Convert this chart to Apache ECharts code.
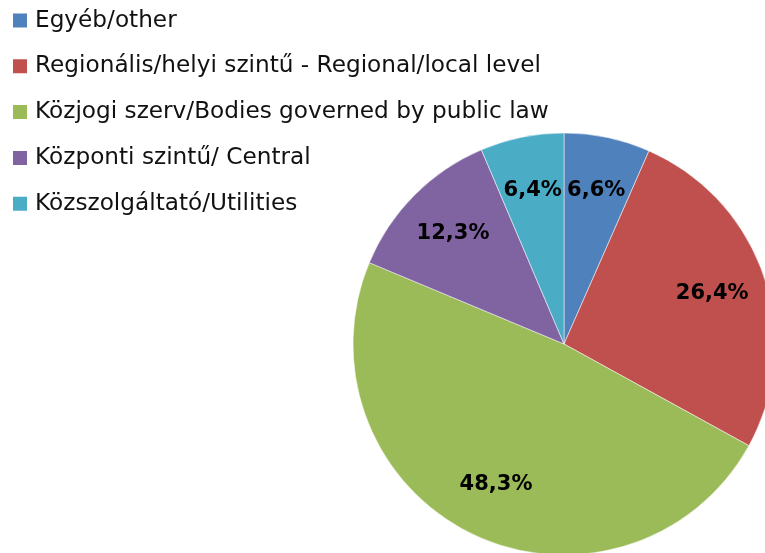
<!DOCTYPE html>
<html>
<head>
<meta charset="utf-8">
<script src="https://cdn.jsdelivr.net/npm/echarts@6/dist/echarts.min.js"></script>
<style>
  html, body { margin: 0; padding: 0; background: #fff; }
  #chart { width: 765px; height: 553px; }
</style>
</head>
<body>
<div id="chart"></div>
<script>
// kategóriák és értékek (%)
const categories = [
  'Egyéb/other',
  'Regionális/helyi szintű - Regional/local level',
  'Közjogi szerv/Bodies governed by public law',
  'Központi szintű/ Central',
  'Közszolgáltató/Utilities'
];
const values = [6.6, 26.4, 48.3, 12.3, 6.4];
const colors = ['#4F81BD', '#C0504D', '#9BBB59', '#8064A2', '#4BACC6'];

const pieData = categories.map((name, i) => ({ name: name, value: values[i] }));

const chart = echarts.init(document.getElementById('chart'));

chart.setOption({
  animation: false,
  color: colors,
  legend: {
    orient: 'vertical',
    left: 6,
    top: 4,
    itemWidth: 16,
    itemHeight: 16,
    itemGap: 22.8,
    icon: 'rect',
    textStyle: {
      fontFamily: 'DejaVu Sans',
      fontSize: 23.2,
      color: '#111',
      padding: [0, 0, 0, 2]
    },
    data: categories
  },
  series: [
    {
      // maga a kör
      type: 'pie',
      center: [564, 344],
      radius: 211,
      startAngle: 90,
      clockwise: true,
      label: { show: false },
      labelLine: { show: false },
      itemStyle: { borderColor: '#fff', borderWidth: 0.5 },
      data: pieData
    },
    {
      // átlátszó réteg a címkékhez
      type: 'pie',
      silent: true,
      center: [564, 344],
      radius: [96, 211],
      startAngle: 90,
      clockwise: true,
      legendHoverLink: false,
      itemStyle: { color: 'rgba(0,0,0,0)' },
      label: {
        show: true,
        position: 'inside',
        formatter: p => p.value.toFixed(1).replace('.', ',') + '%',
        fontFamily: 'DejaVu Sans',
        fontWeight: 'bold',
        fontSize: 21,
        color: '#000'
      },
      labelLine: { show: false },
      data: pieData.map(d => ({ name: d.name + ' ', value: d.value }))
    }
  ]
});
</script>
</body>
</html>
